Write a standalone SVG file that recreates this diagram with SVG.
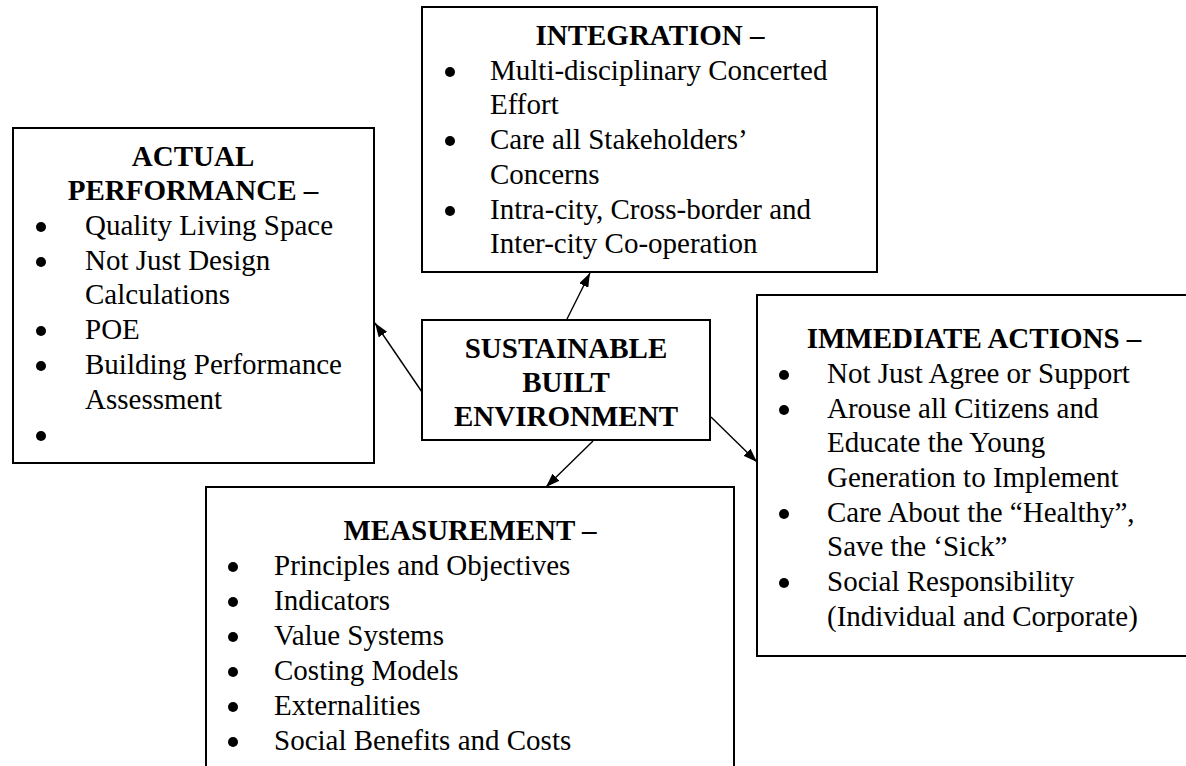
<svg xmlns="http://www.w3.org/2000/svg" width="1186" height="766" viewBox="0 0 1186 766">
<defs>
<style>
.box{fill:#fff;stroke:#000;stroke-width:2}
.t{font-family:"Liberation Serif","Times New Roman",serif;font-size:29px;fill:#000}
.b{font-weight:bold}
.c{text-anchor:middle}
.dot{fill:#000}
.con{stroke:#000;stroke-width:1.4;fill:none;marker-end:url(#ah)}
</style>
<marker id="ah" viewBox="0 0 14 10" refX="14" refY="5" markerWidth="14" markerHeight="10" markerUnits="userSpaceOnUse" orient="auto">
<path d="M0,0 L14,5 L0,10 z" fill="#000"/>
</marker>
</defs>
<rect width="1186" height="766" fill="#fff"/>

<g id="integration">
<rect class="box" x="422" y="7" width="455" height="265"/>
<text class="t b c" x="650" y="45">INTEGRATION –</text>
<circle class="dot" cx="450" cy="72" r="5"/>
<text class="t" x="490" y="80">Multi-disciplinary Concerted</text>
<text class="t" x="490" y="114">Effort</text>
<circle class="dot" cx="450" cy="141" r="5"/>
<text class="t" x="490" y="149">Care all Stakeholders’</text>
<text class="t" x="490" y="184">Concerns</text>
<circle class="dot" cx="450" cy="211" r="5"/>
<text class="t" x="490" y="219">Intra-city, Cross-border and</text>
<text class="t" x="490" y="253">Inter-city Co-operation</text>
</g>

<g id="actual">
<rect class="box" x="13" y="128" width="361" height="335"/>
<text class="t b c" x="193" y="166">ACTUAL</text>
<text class="t b c" x="193" y="200">PERFORMANCE –</text>
<circle class="dot" cx="41" cy="227" r="5"/>
<text class="t" x="85" y="235">Quality Living Space</text>
<circle class="dot" cx="41" cy="262" r="5"/>
<text class="t" x="85" y="270">Not Just Design</text>
<text class="t" x="85" y="304">Calculations</text>
<circle class="dot" cx="41" cy="331" r="5"/>
<text class="t" x="85" y="339">POE</text>
<circle class="dot" cx="41" cy="366" r="5"/>
<text class="t" x="85" y="374">Building Performance</text>
<text class="t" x="85" y="409">Assessment</text>
<circle class="dot" cx="41" cy="436" r="5"/>
</g>

<g id="center">
<rect class="box" x="422" y="320" width="288" height="120"/>
<text class="t b c" x="566" y="358">SUSTAINABLE</text>
<text class="t b c" x="566" y="392">BUILT</text>
<text class="t b c" x="566" y="426">ENVIRONMENT</text>
</g>

<g id="immediate">
<rect class="box" x="757" y="295" width="440" height="361"/>
<text class="t b c" x="974" y="348">IMMEDIATE ACTIONS –</text>
<circle class="dot" cx="784" cy="375" r="5"/>
<text class="t" x="827" y="383">Not Just Agree or Support</text>
<circle class="dot" cx="784" cy="410" r="5"/>
<text class="t" x="827" y="418">Arouse all Citizens and</text>
<text class="t" x="827" y="452">Educate the Young</text>
<text class="t" x="827" y="487">Generation to Implement</text>
<circle class="dot" cx="784" cy="514" r="5"/>
<text class="t" x="827" y="522">Care About the “Healthy”,</text>
<text class="t" x="827" y="556">Save the ‘Sick”</text>
<circle class="dot" cx="784" cy="583" r="5"/>
<text class="t" x="827" y="591">Social Responsibility</text>
<text class="t" x="827" y="626">(Individual and Corporate)</text>
</g>

<g id="measurement">
<rect class="box" x="206" y="487" width="528" height="300"/>
<text class="t b c" x="470" y="540">MEASUREMENT –</text>
<circle class="dot" cx="233" cy="567" r="5"/>
<text class="t" x="274" y="575">Principles and Objectives</text>
<circle class="dot" cx="233" cy="602" r="5"/>
<text class="t" x="274" y="610">Indicators</text>
<circle class="dot" cx="233" cy="637" r="5"/>
<text class="t" x="274" y="645">Value Systems</text>
<circle class="dot" cx="233" cy="672" r="5"/>
<text class="t" x="274" y="680">Costing Models</text>
<circle class="dot" cx="233" cy="707" r="5"/>
<text class="t" x="274" y="715">Externalities</text>
<circle class="dot" cx="233" cy="742" r="5"/>
<text class="t" x="274" y="750">Social Benefits and Costs</text>
</g>

<g id="connectors">
<line class="con" x1="422" y1="392" x2="375" y2="323"/>
<line class="con" x1="567" y1="319" x2="590" y2="273"/>
<line class="con" x1="711" y1="417" x2="757" y2="462"/>
<line class="con" x1="593" y1="441" x2="546" y2="487"/>
</g>
</svg>
